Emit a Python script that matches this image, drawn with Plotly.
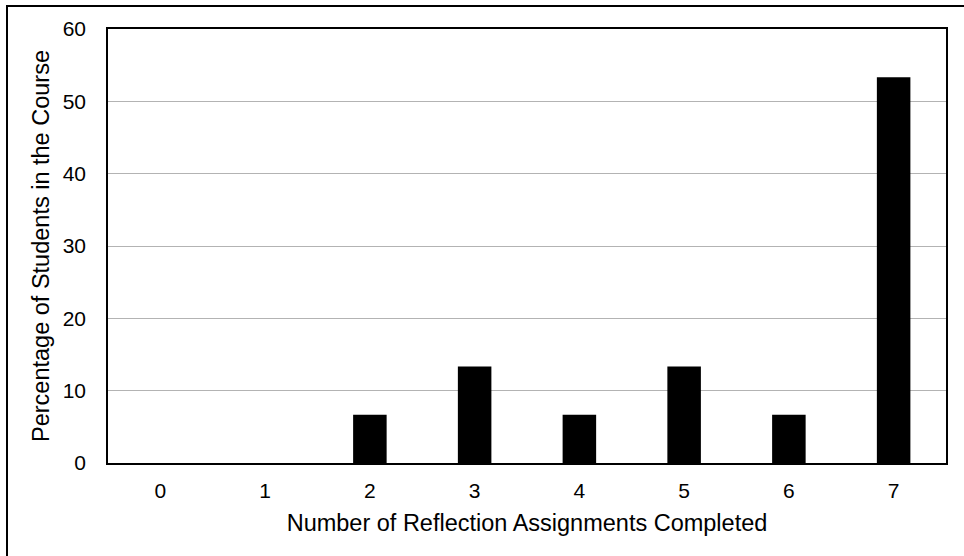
import plotly.graph_objects as go

categories = ["0", "1", "2", "3", "4", "5", "6", "7"]
percentages = [0, 0, 6.67, 13.33, 6.67, 13.33, 6.67, 53.33]
y_ticks = [0, 10, 20, 30, 40, 50, 60]

fig = go.Figure()
fig.add_trace(go.Bar(
    x=categories, y=percentages,
    marker=dict(color="black", line=dict(width=0)),
    width=0.32,
))

fam = "Liberation Sans, Arial, sans-serif"
tick_font = dict(family=fam, size=21, color="black")
title_font = dict(family=fam, size=23.5, color="black")

fig.update_layout(
    width=964, height=556,
    margin=dict(l=108, r=18, t=29, b=93),
    paper_bgcolor="white", plot_bgcolor="white",
    font=tick_font,
    showlegend=False,
    xaxis=dict(
        type="category",
        range=[-0.5, 7.5],
        showline=True, linecolor="black", linewidth=1.5, mirror=True,
        showgrid=False, ticks="",
        tickfont=tick_font,
        ticklabelstandoff=8,
        title=dict(text="Number of Reflection Assignments Completed", font=title_font, standoff=14),
    ),
    yaxis=dict(
        range=[0, 60],
        tickvals=y_ticks,
        showline=True, linecolor="black", linewidth=1.5, mirror=True,
        showgrid=True, gridcolor="#b3b3b3", gridwidth=1,
        zeroline=False, ticks="",
        tickfont=tick_font,
        ticklabelstandoff=16,
        title=dict(text="Percentage of Students in the Course", font=title_font, standoff=6),
    ),
    shapes=[dict(type="rect", xref="paper", yref="paper",
                 x0=-101/838, x1=1.2, y0=-0.5, y1=457/434,
                 line=dict(color="black", width=2), fillcolor="rgba(0,0,0,0)",
                 layer="above")],
)

fig.write_html("out.html", config={"displayModeBar": False},
               post_script="document.body.style.margin='0';")
